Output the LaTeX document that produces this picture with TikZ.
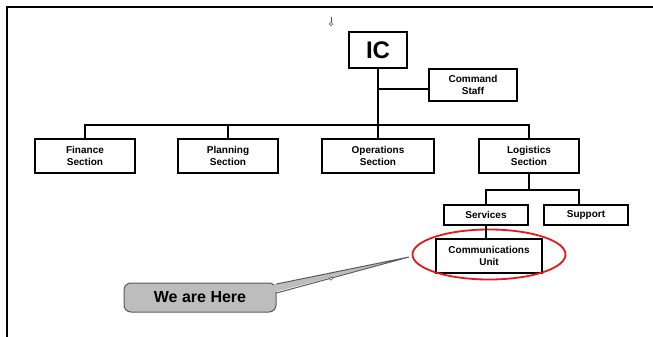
\documentclass[tikz,border=0pt]{standalone}
\usepackage{fontspec}
\setmainfont{Liberation Sans}
\usetikzlibrary{calc,shapes.geometric}
\definecolor{calloutgray}{HTML}{BDBDBD}
\definecolor{calloutborder}{HTML}{5A5A5A}
\definecolor{ringred}{HTML}{E3191B}
\begin{document}
\begin{tikzpicture}[x=1pt,y=-1pt,line width=2pt,
  box/.style={draw,fill=white,align=center,inner sep=0pt,
    font=\bfseries\fontsize{10}{11.7}\selectfont},
  secbox/.style={box,minimum height=34pt},
  subbox/.style={box,minimum width=84pt,minimum height=20pt},
  handle/.style={circle,draw=black!70,fill=white,inner sep=0pt,minimum size=3.6pt,line width=0.6pt}]
\useasboundingbox (0,0) rectangle (653,337);
% frame
\draw[line width=2pt] (7,337) -- (7,7) -- (653,7);
% nodes
\node[box,minimum width=58pt,minimum height=36pt,font=\bfseries\fontsize{24}{24}\selectfont] (ic) at (378,50) {IC};
\node[box,minimum width=88pt,minimum height=32pt] (cs) at (473,85) {Command\\Staff};
\node[secbox,minimum width=100pt] (fin) at (85,156) {Finance\\Section};
\node[secbox,minimum width=100pt] (plan) at (228,156) {Planning\\Section};
\node[secbox,minimum width=112pt] (ops) at (378,156) {Operations\\Section};
\node[secbox,minimum width=100pt] (log) at (529,156) {Logistics\\Section};
\node[subbox] (serv) at (486,215) {Services};
\node[subbox] (sup) at (586,215) {Support};
\node[box,minimum width=106pt,minimum height=34pt] (comm) at (489,256) {Communications\\Unit};
\node[ellipse,draw=ringred,line width=1.8pt,minimum width=153pt,minimum height=50pt] (ring) at (489,254.5) {};
% connectors
\coordinate (bus) at (0,125);
\coordinate (sub) at (0,190);
\coordinate (csjoin) at ($(cs.west)+(0,4)$);
\coordinate (supdrop) at ($(sup.north)+(-7,0)$);
\draw (ic.south) -- (ic.south |- bus);
\draw (ic.south |- csjoin) -- (csjoin);
\draw (fin.north) |- (log.north |- bus) -- (log.north);
\draw (plan.north) -- (plan.north |- bus);
\draw (ops.north) -- (ops.north |- bus);
\draw (log.south) -- (log.south |- sub);
\draw (serv.north) |- (supdrop |- sub) -- (supdrop);
\draw (serv.south) -- (serv.south |- comm.north);
% callout
\node[draw=calloutborder,fill=calloutgray,rounded corners=7pt,line width=1pt,
  minimum width=152pt,minimum height=29pt,inner sep=0pt,
  font=\bfseries\fontsize{16}{16}\selectfont] (here) at (200,297.5) {We are Here};
\coordinate (tip) at (409,257);
\coordinate (pa) at ($(here.east)+(0,-13.5)$);
\coordinate (pb) at ($(here.east)+(0,-4.5)$);
\fill[calloutgray] ($(pa)+(-3,0.6)$) -- (tip) -- ($(pb)+(-3,-0.6)$) -- cycle;
\draw[calloutborder,line width=1pt] (pa) -- (tip) -- (pb);
\node[handle] (h2) at (331,278.5) {};
% rotate handle at top
\node[handle] (h1) at (331,24) {};
\coordinate (h1top) at (331,17);
\draw[black!70,line width=0.6pt] (h1top) -- (h1.north);
\end{tikzpicture}
\end{document}
